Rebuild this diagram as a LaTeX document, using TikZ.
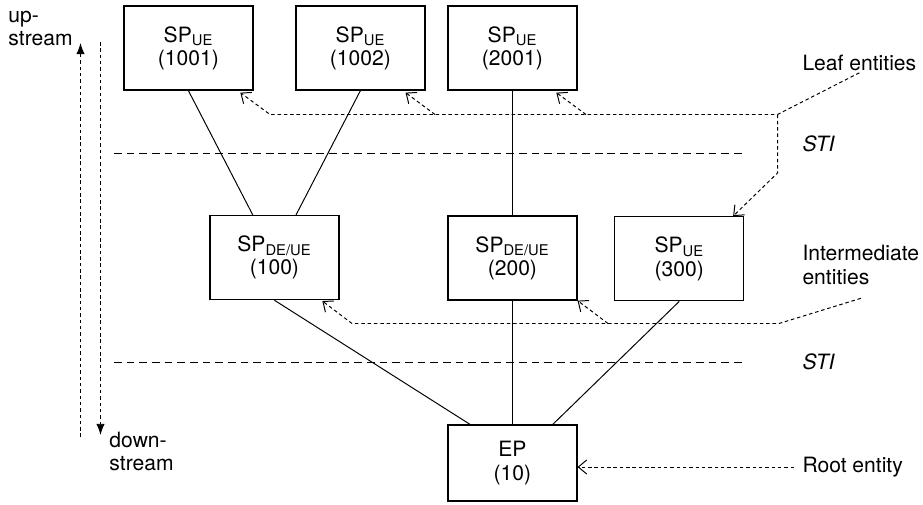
\documentclass[tikz,border=0pt]{standalone}
\usepackage{fontspec}
\setmainfont{TeX Gyre Heros}
\usetikzlibrary{arrows.meta}

\begin{document}
\begin{tikzpicture}[font=\fontsize{15}{16.5}\selectfont, line width=0.7pt,
		box/.style={draw, line width=0.9pt, minimum width=3.225cm, minimum height=2.1cm, align=center, inner sep=0pt},
		sti/.style={dash pattern=on 5.5pt off 3.5pt},
		ptr/.style={-{Straight Barb[length=6pt,width=10pt]}, dash pattern=on 2.5pt off 2pt},
		flow/.style={-{Latex[length=8pt,width=6pt]}, dash pattern=on 2.5pt off 2pt},
		lbl/.style={anchor=west, align=left, inner xsep=0.2cm, inner ysep=1pt}]
	\useasboundingbox (0,0) rectangle (23.075,12.6);
	% leaf entities
	\node[box] (sp1001) at (4.71,11.4) {SP\textsubscript{UE}\\(1001)};
	\node[box] (sp1002) at (9.01,11.4) {SP\textsubscript{UE}\\(1002)};
	\node[box] (sp2001) at (12.81,11.4) {SP\textsubscript{UE}\\(2001)};
	% intermediate entities
	\node[box] (sp100) at (6.86,6.16) {SP\textsubscript{DE/UE}\\(100)};
	\node[box] (sp200) at (12.81,6.15) {SP\textsubscript{DE/UE}\\(200)};
	\node[box] (sp300) at (16.98,6.13) {SP\textsubscript{UE}\\(300)};
	% root entity
	\node[box, minimum height=1.9cm] (ep) at (12.81,1.025) {EP\\(10)};
	% tree
	\draw (sp1001.south) -- ([xshift=-0.54cm]sp100.north);
	\draw (sp1002.south) -- ([xshift=0.54cm]sp100.north);
	\draw (sp2001.south) -- (sp200.north);
	\draw (sp100.south) -- ([xshift=-1.06cm]ep.north);
	\draw (sp200.south) -- (ep.north);
	\draw (sp300.south) -- ([xshift=1.01cm]ep.north);
	% STI borders
	\draw[sti] (2.85,8.7625) -- (18.65,8.7625);
	\draw[sti] (2.85,3.5375) -- (18.65,3.5375);
	\node[lbl] (sti1) at (19.85,9.0) {\textit{STI}};
	\node[lbl] (sti2) at (19.85,3.55) {\textit{STI}};
	% labels on the right
	\node[lbl] (leaf) at (19.85,11.025) {Leaf entities};
	\node[lbl] (inter) at (19.85,5.975) {Intermediate\\entities};
	\node[lbl] (root) at (19.85,0.925) {Root entity};
	\draw[ptr] (leaf.south) -- (19.4375,9.7375) -- (6.75,9.7375) -- ([xshift=-0.33cm,yshift=-0.05cm]sp1001.south east);
	\draw[ptr] (10.875,9.7375) -- ([xshift=-0.5cm,yshift=-0.05cm]sp1002.south east);
	\draw[ptr] (14.65,9.7375) -- ([xshift=-0.53cm,yshift=-0.05cm]sp2001.south east);
	\draw[ptr] (19.4375,9.7375) -- (19.4375,8.275) -- ([xshift=-0.28cm]sp300.north east);
	\draw[ptr] ([yshift=-0.3cm]inter.south) -- (19.475,4.5125) -- (8.8,4.5125) -- ([xshift=-0.43cm,yshift=-0.02cm]sp100.south east);
	\draw[ptr] (15.2,4.5125) -- (sp200.south east);
	\draw[ptr] (root.west) -- (root.west -| ep.east);
	% up- and downstream
	\draw[flow] (2.0125,1.675) -- (2.0125,11.525);
	\draw[flow] (2.5125,11.55) -- (2.5125,1.725);
	\node[lbl] (up) at (0,11.89) {up-\\stream};
	\node[lbl] (down) at (2.525,1.31) {down-\\stream};
\end{tikzpicture}
\end{document}
